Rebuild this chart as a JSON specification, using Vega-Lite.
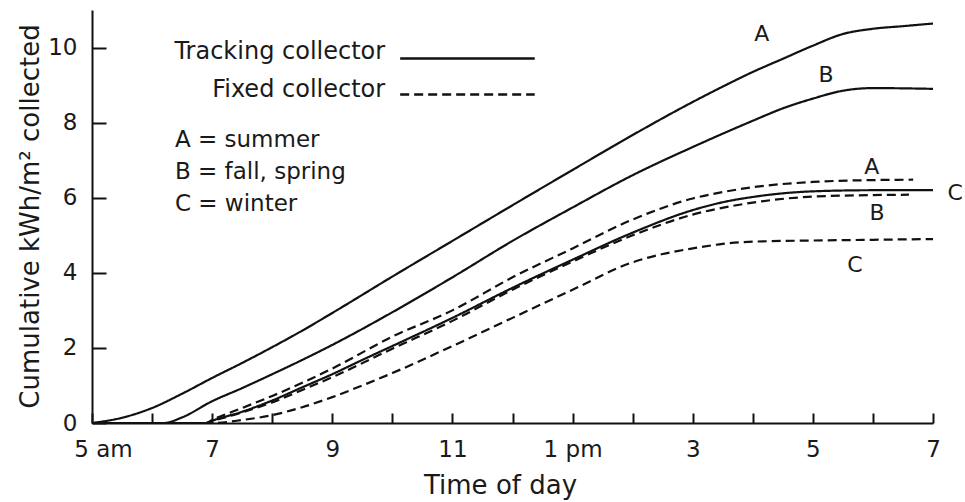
{
  "$schema": "https://vega.github.io/schema/vega-lite/v6.json",
  "width": 841,
  "height": 413,
  "autosize": "none",
  "padding": {"left": 92, "top": 10, "right": 32, "bottom": 79},
  "background": "white",
  "config": {
    "view": {"stroke": null},
    "font": "DejaVu Sans",
    "axis": {"grid": false}
  },
  "datasets": {
    "curves": [
      {"series":"Tracking A","type":"Tracking","t":5,"v":0},{"series":"Tracking A","type":"Tracking","t":5.5,"v":0.14},{"series":"Tracking A","type":"Tracking","t":6,"v":0.4},{"series":"Tracking A","type":"Tracking","t":6.5,"v":0.78},{"series":"Tracking A","type":"Tracking","t":7,"v":1.2},{"series":"Tracking A","type":"Tracking","t":7.5,"v":1.6},{"series":"Tracking A","type":"Tracking","t":8,"v":2.02},{"series":"Tracking A","type":"Tracking","t":8.5,"v":2.46},{"series":"Tracking A","type":"Tracking","t":9,"v":2.93},{"series":"Tracking A","type":"Tracking","t":10,"v":3.9},{"series":"Tracking A","type":"Tracking","t":11,"v":4.85},{"series":"Tracking A","type":"Tracking","t":12,"v":5.8},{"series":"Tracking A","type":"Tracking","t":13,"v":6.74},{"series":"Tracking A","type":"Tracking","t":14,"v":7.67},{"series":"Tracking A","type":"Tracking","t":15,"v":8.55},{"series":"Tracking A","type":"Tracking","t":15.5,"v":8.96},{"series":"Tracking A","type":"Tracking","t":16,"v":9.35},{"series":"Tracking A","type":"Tracking","t":16.5,"v":9.7},{"series":"Tracking A","type":"Tracking","t":17,"v":10.05},{"series":"Tracking A","type":"Tracking","t":17.5,"v":10.36},{"series":"Tracking A","type":"Tracking","t":18,"v":10.5},{"series":"Tracking A","type":"Tracking","t":18.5,"v":10.57},{"series":"Tracking A","type":"Tracking","t":19,"v":10.64},
      {"series":"Tracking B","type":"Tracking","t":5,"v":0},{"series":"Tracking B","type":"Tracking","t":6.2,"v":0},{"series":"Tracking B","type":"Tracking","t":6.5,"v":0.15},{"series":"Tracking B","type":"Tracking","t":7,"v":0.58},{"series":"Tracking B","type":"Tracking","t":7.5,"v":0.93},{"series":"Tracking B","type":"Tracking","t":8,"v":1.3},{"series":"Tracking B","type":"Tracking","t":8.5,"v":1.68},{"series":"Tracking B","type":"Tracking","t":9,"v":2.08},{"series":"Tracking B","type":"Tracking","t":10,"v":2.95},{"series":"Tracking B","type":"Tracking","t":11,"v":3.88},{"series":"Tracking B","type":"Tracking","t":12,"v":4.85},{"series":"Tracking B","type":"Tracking","t":13,"v":5.74},{"series":"Tracking B","type":"Tracking","t":14,"v":6.6},{"series":"Tracking B","type":"Tracking","t":15,"v":7.35},{"series":"Tracking B","type":"Tracking","t":16,"v":8.05},{"series":"Tracking B","type":"Tracking","t":16.5,"v":8.38},{"series":"Tracking B","type":"Tracking","t":17,"v":8.64},{"series":"Tracking B","type":"Tracking","t":17.5,"v":8.85},{"series":"Tracking B","type":"Tracking","t":18,"v":8.92},{"series":"Tracking B","type":"Tracking","t":19,"v":8.9},
      {"series":"Tracking C","type":"Tracking","t":5,"v":0},{"series":"Tracking C","type":"Tracking","t":6.9,"v":0},{"series":"Tracking C","type":"Tracking","t":7,"v":0.06},{"series":"Tracking C","type":"Tracking","t":7.5,"v":0.3},{"series":"Tracking C","type":"Tracking","t":8,"v":0.6},{"series":"Tracking C","type":"Tracking","t":8.5,"v":0.95},{"series":"Tracking C","type":"Tracking","t":9,"v":1.3},{"series":"Tracking C","type":"Tracking","t":9.5,"v":1.68},{"series":"Tracking C","type":"Tracking","t":10,"v":2.05},{"series":"Tracking C","type":"Tracking","t":11,"v":2.8},{"series":"Tracking C","type":"Tracking","t":12,"v":3.6},{"series":"Tracking C","type":"Tracking","t":13,"v":4.35},{"series":"Tracking C","type":"Tracking","t":14,"v":5.07},{"series":"Tracking C","type":"Tracking","t":15,"v":5.67},{"series":"Tracking C","type":"Tracking","t":15.5,"v":5.88},{"series":"Tracking C","type":"Tracking","t":16,"v":6.02},{"series":"Tracking C","type":"Tracking","t":17,"v":6.17},{"series":"Tracking C","type":"Tracking","t":18,"v":6.2},{"series":"Tracking C","type":"Tracking","t":19,"v":6.2},
      {"series":"Fixed A","type":"Fixed","t":5,"v":0},{"series":"Fixed A","type":"Fixed","t":6.9,"v":0},{"series":"Fixed A","type":"Fixed","t":7,"v":0.08},{"series":"Fixed A","type":"Fixed","t":7.5,"v":0.4},{"series":"Fixed A","type":"Fixed","t":8,"v":0.72},{"series":"Fixed A","type":"Fixed","t":8.5,"v":1.07},{"series":"Fixed A","type":"Fixed","t":9,"v":1.45},{"series":"Fixed A","type":"Fixed","t":10,"v":2.3},{"series":"Fixed A","type":"Fixed","t":11,"v":3.0},{"series":"Fixed A","type":"Fixed","t":12,"v":3.88},{"series":"Fixed A","type":"Fixed","t":13,"v":4.65},{"series":"Fixed A","type":"Fixed","t":14,"v":5.42},{"series":"Fixed A","type":"Fixed","t":15,"v":5.98},{"series":"Fixed A","type":"Fixed","t":15.5,"v":6.15},{"series":"Fixed A","type":"Fixed","t":16,"v":6.28},{"series":"Fixed A","type":"Fixed","t":17,"v":6.42},{"series":"Fixed A","type":"Fixed","t":18,"v":6.47},{"series":"Fixed A","type":"Fixed","t":18.67,"v":6.48},
      {"series":"Fixed B","type":"Fixed","t":5,"v":0},{"series":"Fixed B","type":"Fixed","t":6.9,"v":0},{"series":"Fixed B","type":"Fixed","t":7,"v":0.05},{"series":"Fixed B","type":"Fixed","t":7.5,"v":0.28},{"series":"Fixed B","type":"Fixed","t":8,"v":0.55},{"series":"Fixed B","type":"Fixed","t":8.5,"v":0.88},{"series":"Fixed B","type":"Fixed","t":9,"v":1.22},{"series":"Fixed B","type":"Fixed","t":10,"v":1.98},{"series":"Fixed B","type":"Fixed","t":11,"v":2.72},{"series":"Fixed B","type":"Fixed","t":12,"v":3.55},{"series":"Fixed B","type":"Fixed","t":13,"v":4.3},{"series":"Fixed B","type":"Fixed","t":14,"v":5.0},{"series":"Fixed B","type":"Fixed","t":15,"v":5.55},{"series":"Fixed B","type":"Fixed","t":16,"v":5.87},{"series":"Fixed B","type":"Fixed","t":17,"v":6.03},{"series":"Fixed B","type":"Fixed","t":18,"v":6.07},{"series":"Fixed B","type":"Fixed","t":18.6,"v":6.08},
      {"series":"Fixed C","type":"Fixed","t":5,"v":0},{"series":"Fixed C","type":"Fixed","t":7,"v":0},{"series":"Fixed C","type":"Fixed","t":7.5,"v":0.08},{"series":"Fixed C","type":"Fixed","t":8,"v":0.21},{"series":"Fixed C","type":"Fixed","t":8.5,"v":0.42},{"series":"Fixed C","type":"Fixed","t":9,"v":0.69},{"series":"Fixed C","type":"Fixed","t":9.5,"v":1.0},{"series":"Fixed C","type":"Fixed","t":10,"v":1.33},{"series":"Fixed C","type":"Fixed","t":11,"v":2.05},{"series":"Fixed C","type":"Fixed","t":12,"v":2.8},{"series":"Fixed C","type":"Fixed","t":13,"v":3.55},{"series":"Fixed C","type":"Fixed","t":14,"v":4.28},{"series":"Fixed C","type":"Fixed","t":14.5,"v":4.5},{"series":"Fixed C","type":"Fixed","t":15,"v":4.65},{"series":"Fixed C","type":"Fixed","t":15.5,"v":4.77},{"series":"Fixed C","type":"Fixed","t":16,"v":4.83},{"series":"Fixed C","type":"Fixed","t":17,"v":4.86},{"series":"Fixed C","type":"Fixed","t":18,"v":4.88},{"series":"Fixed C","type":"Fixed","t":19,"v":4.9}
    ],
    "keyLines": [
      {"type":"Tracking","t":10.13,"t2":12.37,"v":9.71},
      {"type":"Fixed","t":10.13,"t2":12.37,"v":8.75}
    ],
    "curveLabels": [
      {"label":"A","t":16.15,"v":10.35},
      {"label":"B","t":17.22,"v":9.28},
      {"label":"A","t":17.98,"v":6.83},
      {"label":"C","t":19.37,"v":6.13},
      {"label":"B","t":18.07,"v":5.6},
      {"label":"C","t":17.7,"v":4.21}
    ],
    "keyNames": [
      {"label":"Tracking collector","t":9.88,"v":9.89},
      {"label":"Fixed collector","t":9.88,"v":8.88}
    ],
    "seasons": [
      {"label":"A = summer","t":6.38,"v":7.55},
      {"label":"B = fall, spring","t":6.38,"v":6.69},
      {"label":"C = winter","t":6.38,"v":5.84}
    ]
  },
  "layer": [
    {
      "data": {"name": "curves"},
      "mark": {"type": "line", "interpolate": "monotone", "color": "#111111", "strokeWidth": 2.2},
      "encoding": {
        "x": {
          "field": "t", "type": "quantitative",
          "scale": {"domain": [5, 19], "nice": false, "zero": false},
          "axis": {
            "title": "Time of day",
            "values": [5,6,7,8,9,10,11,12,13,14,15,16,17,18,19],
            "labelExpr": "datum.value == 5 ? '5 am' : datum.value == 13 ? '1 pm' : datum.value % 2 == 1 ? (datum.value > 12 ? '' + (datum.value - 12) : '' + datum.value) : ''",
            "labelFontSize": 23, "labelColor": "#1a1a1a", "labelFont": "DejaVu Sans",
            "labelPadding": 25, "labelFlush": false, "labelOverlap": false,
            "labelOffset": {"condition": {"test": "datum.value == 5", "value": 11}, "value": 0},
            "tickSize": -10, "tickWidth": 2, "tickColor": "#111111",
            "domainColor": "#111111", "domainWidth": 2,
            "titleFontSize": 26, "titleFontWeight": "normal", "titleColor": "#1a1a1a", "titleFont": "DejaVu Sans",
            "titleX": 408, "titleY": 62, "titleBaseline": "middle", "titleAlign": "center"
          }
        },
        "y": {
          "field": "v", "type": "quantitative",
          "scale": {"domain": [0, 11], "nice": false},
          "axis": {
            "title": "Cumulative kWh/m² collected",
            "values": [0,1,2,3,4,5,6,7,8,9,10,11],
            "labelExpr": "datum.value % 2 == 0 ? datum.label : ''",
            "labelFontSize": 23, "labelColor": "#1a1a1a", "labelFont": "DejaVu Sans",
            "labelPadding": 29, "labelFlush": false, "labelOverlap": false,
            "tickSize": -14, "tickWidth": 2, "tickColor": "#111111",
            "domainColor": "#111111", "domainWidth": 2,
            "titleFontSize": 26, "titleFontWeight": "normal", "titleColor": "#1a1a1a", "titleFont": "DejaVu Sans",
            "titleX": -62, "titleY": 206, "titleAngle": -90, "titleBaseline": "middle", "titleAlign": "center"
          }
        },
        "detail": {"field": "series"},
        "strokeDash": {
          "field": "type", "type": "nominal",
          "scale": {"domain": ["Tracking", "Fixed"], "range": [[1, 0], [9, 5]]},
          "legend": null
        }
      }
    },
    {
      "data": {"name": "keyLines"},
      "mark": {"type": "rule", "color": "#111111", "strokeWidth": 2.4},
      "encoding": {
        "x": {"field": "t", "type": "quantitative"},
        "x2": {"field": "t2"},
        "y": {"field": "v", "type": "quantitative"},
        "strokeDash": {"field": "type", "type": "nominal", "legend": null}
      }
    },
    {
      "data": {"name": "curveLabels"},
      "mark": {"type": "text", "fontSize": 22, "color": "#1a1a1a", "align": "center", "baseline": "middle", "font": "DejaVu Sans"},
      "encoding": {
        "x": {"field": "t", "type": "quantitative"},
        "y": {"field": "v", "type": "quantitative"},
        "text": {"field": "label"}
      }
    },
    {
      "data": {"name": "keyNames"},
      "mark": {"type": "text", "fontSize": 24, "color": "#1a1a1a", "align": "right", "baseline": "middle", "font": "DejaVu Sans"},
      "encoding": {
        "x": {"field": "t", "type": "quantitative"},
        "y": {"field": "v", "type": "quantitative"},
        "text": {"field": "label"}
      }
    },
    {
      "data": {"name": "seasons"},
      "mark": {"type": "text", "fontSize": 23, "color": "#1a1a1a", "align": "left", "baseline": "middle", "font": "DejaVu Sans"},
      "encoding": {
        "x": {"field": "t", "type": "quantitative"},
        "y": {"field": "v", "type": "quantitative"},
        "text": {"field": "label"}
      }
    }
  ]
}
